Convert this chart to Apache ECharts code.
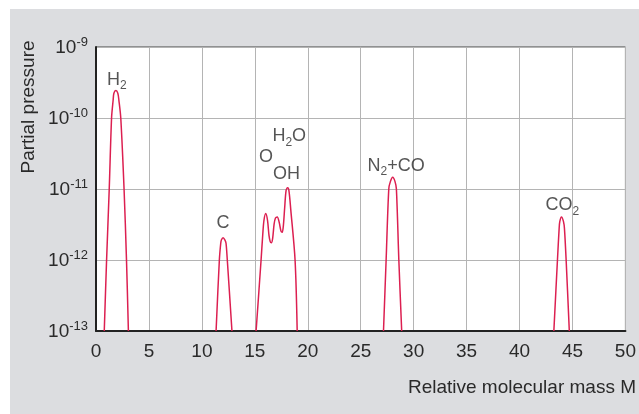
<!DOCTYPE html>
<html><head><meta charset="utf-8">
<script src="https://cdn.jsdelivr.net/npm/echarts@6/dist/echarts.min.js"></script>
<style>
html,body{margin:0;padding:0;background:#fff;}
#bg{position:absolute;left:10px;top:9px;width:629px;height:405px;background:#dcdde0;}
#c{position:absolute;left:0;top:0;width:639px;height:414px;}
</style>
</head><body><div id="bg"></div><div id="c"></div>
<script>
// ---- data ----
const xMin = 0, xMax = 50, xStep = 5;
const yMinExp = -13, yMaxExp = -9;
const peakH2 = [[0.78,1e-13],[1.0,1e-12],[1.25,1e-11],[1.47,1e-10],[1.62,1.79e-10],[1.69,2.23e-10],[1.88,2.43e-10],[2.06,2.23e-10],[2.16,1.79e-10],[2.34,1e-10],[2.65,1e-11],[2.88,1e-12],[3.06,1e-13]];
const peakC = [[11.34,1e-13],[11.65,1e-12],[11.78,1.72e-12],[11.84,1.91e-12],[12.0,2.06e-12],[12.18,1.91e-12],[12.28,1.72e-12],[12.4,1e-12],[12.84,1e-13]];
const peakWater = [[15.12,1e-13],[15.59,1e-12],[15.75,2.3e-12],[15.86,3.6e-12],[16.03,4.5e-12],[16.2,3.6e-12],[16.34,2.2e-12],[16.46,1.8e-12],[16.56,1.75e-12],[16.68,2.0e-12],[16.82,3.2e-12],[16.95,3.9e-12],[17.12,4.04e-12],[17.3,3.4e-12],[17.47,2.55e-12],[17.59,2.45e-12],[17.7,3.1e-12],[17.82,5.5e-12],[17.95,9.5e-12],[18.09,1.04e-11],[18.22,9.5e-12],[18.4,5e-12],[18.8,1e-12],[19.0,1e-13]];
const peakN2CO = [[27.15,1e-13],[27.4,1e-12],[27.65,1e-11],[27.8,1.27e-11],[28.02,1.46e-11],[28.24,1.27e-11],[28.37,1e-11],[28.6,1e-12],[28.87,1e-13]];
const peakCO2 = [[43.24,1e-13],[43.58,1e-12],[43.74,2.79e-12],[43.8,3.47e-12],[43.96,4.04e-12],[44.15,3.47e-12],[44.24,2.79e-12],[44.4,1e-12],[44.7,1e-13]];
const peakNames = ['H2','C','O','H2O','OH','N2+CO','CO2'];
const peakNameX = [1.97,12.0,16.05,18.25,18.0,28.35,44.05];
const peakNameY = [3.7e-10,3.6e-12,3.1e-11,6.0e-11,1.75e-11,2.3e-11,6.4e-12];

// ---- chart ----
const FONT = '"Liberation Sans", Arial, Helvetica, sans-serif';
const INK = '#2a2a2a';
const RED = '#dc1f50';
function richName(s){
  return s.split(/(\d)/).filter(p=>p!=='').map(p=>/\d/.test(p)?'{s|'+p+'}':'{b|'+p+'}').join('');
}
const chart = echarts.init(document.getElementById('c'), null, {renderer:'canvas'});
const curves = [peakH2, peakC, peakWater, peakN2CO, peakCO2].map(d=>({
  type:'line', data:d, smooth:0.3, symbol:'none', clip:true,
  lineStyle:{color:RED, width:1.5}, z:3
}));
const labelData = peakNames.map((n,i)=>[peakNameX[i], peakNameY[i], n]);
chart.setOption({
  animation:false,
  grid:{left:96, right:8, top:47, bottom:83, show:true, backgroundColor:'#fff', borderColor:'#444', borderWidth:1},
  xAxis:{type:'value', min:xMin, max:xMax, interval:xStep,
    axisLine:{show:true, onZero:false, lineStyle:{color:'#222', width:2}},
    axisTick:{show:false},
    splitLine:{show:true, lineStyle:{color:'#b4b4b4', width:1}},
    axisLabel:{color:INK, fontSize:19, fontFamily:FONT, margin:11}
  },
  yAxis:{type:'log', logBase:10, min:Math.pow(10,yMinExp), max:Math.pow(10,yMaxExp),
    axisLine:{show:true, onZero:false, lineStyle:{color:'#222', width:2}},
    axisTick:{show:false},
    splitLine:{show:true, lineStyle:{color:'#b4b4b4', width:1}},
    minorTick:{show:false}, minorSplitLine:{show:false},
    axisLabel:{margin:8, fontFamily:FONT,
      formatter:v=>'{b|10}{e|'+Math.round(Math.log10(v))+'}',
      rich:{
        b:{fontSize:19, color:INK, fontFamily:FONT, verticalAlign:'bottom', lineHeight:20},
        e:{fontSize:13, color:INK, fontFamily:FONT, verticalAlign:'bottom', lineHeight:13, padding:[0,0,8,0]}
      }
    }
  },
  series: curves.concat([{
    type:'scatter', data:labelData, symbolSize:0, z:4, silent:true,
    label:{show:true, position:'inside', offset:[0,3], fontFamily:FONT,
      formatter:p=>richName(p.data[2]),
      rich:{
        b:{fontSize:18, color:INK, fontFamily:FONT, verticalAlign:'top', lineHeight:19},
        s:{fontSize:12, color:INK, fontFamily:FONT, verticalAlign:'top', lineHeight:12, padding:[9,0,0,0]}
      }
    }
  }]),
  graphic:[
    {type:'text', x:29, y:107, rotation:Math.PI/2,
      style:{text:'Partial pressure', fontSize:19, fontFamily:FONT, fill:INK, align:'center', verticalAlign:'middle'}},
    {type:'text', x:636, y:388,
      style:{text:'Relative molecular mass M', fontSize:19, fontFamily:FONT, fill:INK, align:'right', verticalAlign:'middle'}}
  ]
});
</script>
</body></html>
